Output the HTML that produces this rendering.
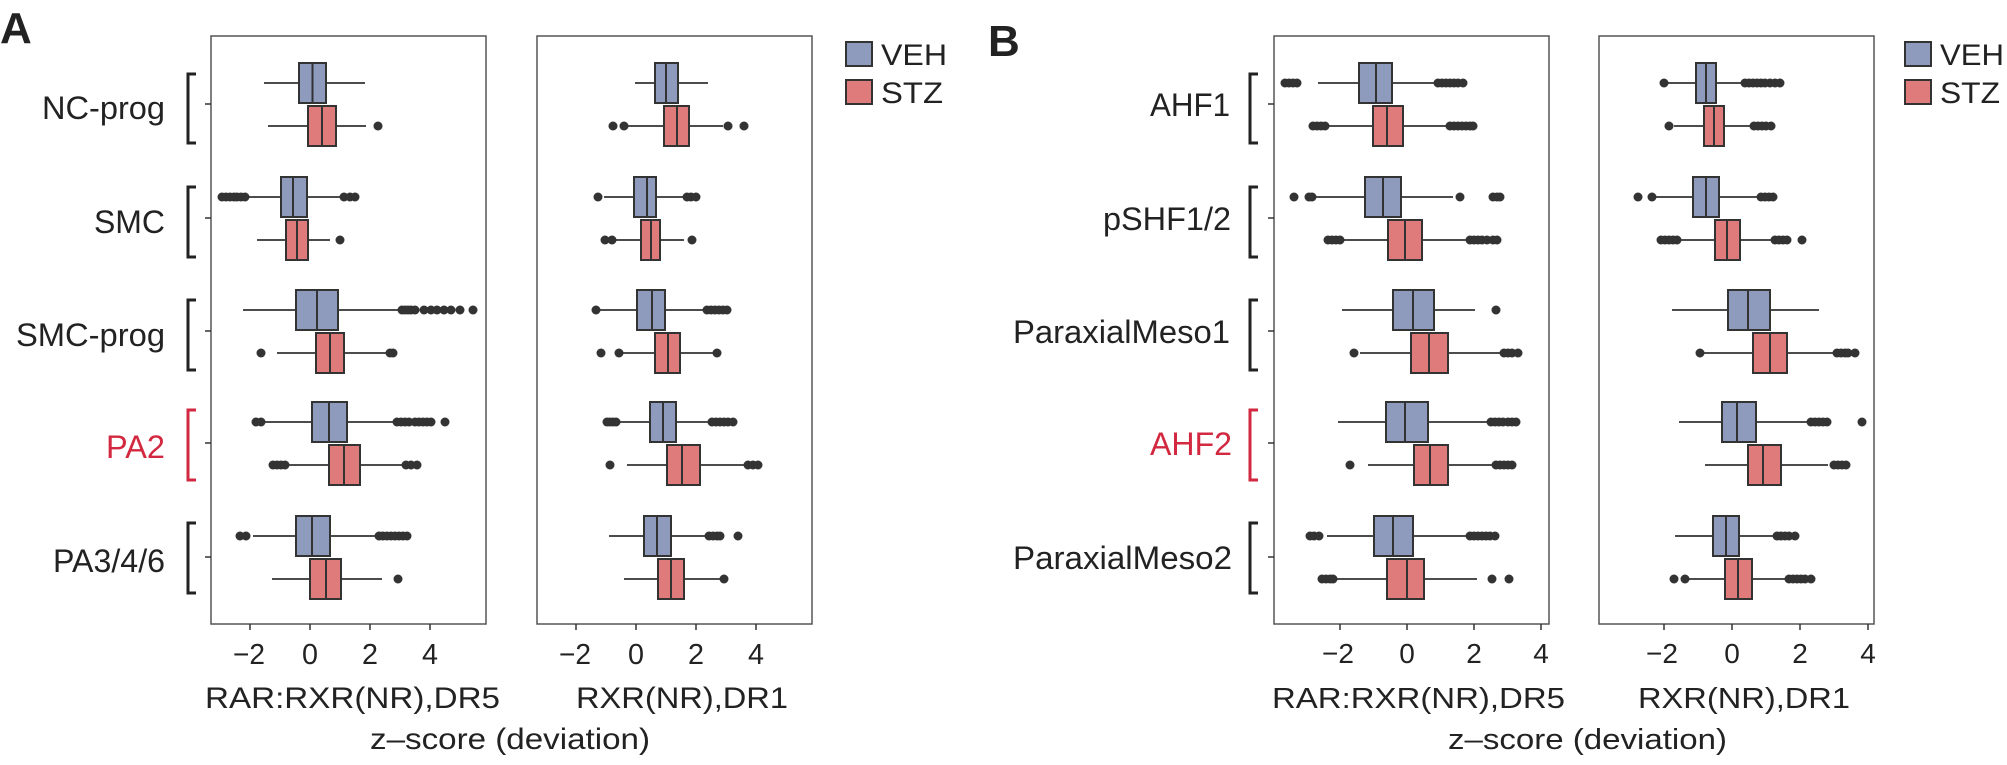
<!DOCTYPE html>
<html><head><meta charset="utf-8"><style>
html,body{margin:0;padding:0;background:#fff;}
svg{display:block;}
text{font-family:"Liberation Sans",Arial,sans-serif;fill:#222;}
.v{fill:#8e9bbd;stroke:#333;stroke-width:2;}
.s{fill:#df7b7a;stroke:#333;stroke-width:2;}
.w{stroke:#333;stroke-width:1.8;}
.m{stroke:#333;stroke-width:2;}
.o circle{fill:#333;}
.f{fill:none;stroke:#555;stroke-width:1.5;}
.t{stroke:#333;stroke-width:1.5;}
.br{fill:none;stroke:#222;stroke-width:3;}
.brr{fill:none;stroke:#d22840;stroke-width:3;}
</style></head><body>
<svg width="2007" height="765" viewBox="0 0 2007 765" xmlns="http://www.w3.org/2000/svg">
<text x="0" y="43" font-size="44" font-weight="bold" fill="#000">A</text>
<text x="988" y="56" font-size="44" font-weight="bold" fill="#000">B</text>

<rect class="f" x="211" y="36" width="275" height="588"/>
<rect class="f" x="537" y="36" width="275" height="588"/>
<rect class="f" x="1274" y="36" width="275" height="588"/>
<rect class="f" x="1599" y="36" width="275" height="588"/>

<g class="t">
<line x1="205" x2="211" y1="104" y2="104"/><line x1="205" x2="211" y1="218" y2="218"/><line x1="205" x2="211" y1="331" y2="331"/><line x1="205" x2="211" y1="443" y2="443"/><line x1="205" x2="211" y1="557" y2="557"/>
<line x1="1268" x2="1274" y1="104" y2="104"/><line x1="1268" x2="1274" y1="218" y2="218"/><line x1="1268" x2="1274" y1="331" y2="331"/><line x1="1268" x2="1274" y1="443" y2="443"/><line x1="1268" x2="1274" y1="557" y2="557"/>
<line x1="250" x2="250" y1="624" y2="630"/><line x1="310" x2="310" y1="624" y2="630"/><line x1="370" x2="370" y1="624" y2="630"/><line x1="430" x2="430" y1="624" y2="630"/>
<line x1="576" x2="576" y1="624" y2="630"/><line x1="636" x2="636" y1="624" y2="630"/><line x1="696" x2="696" y1="624" y2="630"/><line x1="756" x2="756" y1="624" y2="630"/>
<line x1="1340" x2="1340" y1="624" y2="630"/><line x1="1407" x2="1407" y1="624" y2="630"/><line x1="1474" x2="1474" y1="624" y2="630"/><line x1="1541" x2="1541" y1="624" y2="630"/>
<line x1="1664" x2="1664" y1="624" y2="630"/><line x1="1732" x2="1732" y1="624" y2="630"/><line x1="1800" x2="1800" y1="624" y2="630"/><line x1="1868" x2="1868" y1="624" y2="630"/>
</g>

<g font-size="29" text-anchor="middle">
<text x="249" y="664" textLength="32" lengthAdjust="spacingAndGlyphs">−2</text>
<text x="310" y="664" textLength="16" lengthAdjust="spacingAndGlyphs">0</text>
<text x="370" y="664" textLength="16" lengthAdjust="spacingAndGlyphs">2</text>
<text x="430" y="664" textLength="16" lengthAdjust="spacingAndGlyphs">4</text>
<text x="575" y="664" textLength="32" lengthAdjust="spacingAndGlyphs">−2</text>
<text x="636" y="664" textLength="16" lengthAdjust="spacingAndGlyphs">0</text>
<text x="696" y="664" textLength="16" lengthAdjust="spacingAndGlyphs">2</text>
<text x="756" y="664" textLength="16" lengthAdjust="spacingAndGlyphs">4</text>
</g>
<g font-size="28" text-anchor="middle">
<text x="1338" y="663">−2</text><text x="1407" y="663">0</text><text x="1474" y="663">2</text><text x="1541" y="663">4</text>
<text x="1662" y="663">−2</text><text x="1732" y="663">0</text><text x="1800" y="663">2</text><text x="1868" y="663">4</text>
</g>

<text x="205" y="708" font-size="30" textLength="295" lengthAdjust="spacingAndGlyphs">RAR:RXR(NR),DR5</text>
<text x="576" y="708" font-size="30" textLength="212" lengthAdjust="spacingAndGlyphs">RXR(NR),DR1</text>
<text x="370" y="749" font-size="30" textLength="280" lengthAdjust="spacingAndGlyphs">z–score (deviation)</text>
<text x="1272" y="708" font-size="29" textLength="293" lengthAdjust="spacingAndGlyphs">RAR:RXR(NR),DR5</text>
<text x="1638" y="708" font-size="29" textLength="212" lengthAdjust="spacingAndGlyphs">RXR(NR),DR1</text>
<text x="1448" y="749" font-size="29" textLength="279" lengthAdjust="spacingAndGlyphs">z–score (deviation)</text>

<g font-size="32" text-anchor="end">
<text x="165" y="119" textLength="123" lengthAdjust="spacingAndGlyphs">NC-prog</text>
<text x="165" y="233" textLength="71" lengthAdjust="spacingAndGlyphs">SMC</text>
<text x="165" y="346" textLength="149" lengthAdjust="spacingAndGlyphs">SMC-prog</text>
<text x="165" y="458" textLength="59" lengthAdjust="spacingAndGlyphs" style="fill:#d22840">PA2</text>
<text x="165" y="572" textLength="112" lengthAdjust="spacingAndGlyphs">PA3/4/6</text>
</g>
<g font-size="32" text-anchor="end">
<text x="1230" y="116" textLength="80" lengthAdjust="spacingAndGlyphs">AHF1</text>
<text x="1231" y="230" textLength="128" lengthAdjust="spacingAndGlyphs">pSHF1/2</text>
<text x="1230" y="343" textLength="217" lengthAdjust="spacingAndGlyphs">ParaxialMeso1</text>
<text x="1232" y="455" textLength="82" lengthAdjust="spacingAndGlyphs" style="fill:#d22840">AHF2</text>
<text x="1232" y="569" textLength="219" lengthAdjust="spacingAndGlyphs">ParaxialMeso2</text>
</g>

<path class="br" d="M196 74H188V143H196"/>
<path class="br" d="M196 187H188V257H196"/>
<path class="br" d="M196 300H188V370H196"/>
<path class="brr" d="M196 410H188V480H196"/>
<path class="br" d="M196 523H188V593H196"/>
<path class="br" d="M1258 74H1250V143H1258"/>
<path class="br" d="M1258 187H1250V257H1258"/>
<path class="br" d="M1258 300H1250V370H1258"/>
<path class="brr" d="M1258 410H1250V480H1258"/>
<path class="br" d="M1258 523H1250V593H1258"/>

<g class="o">
<line class="w" x1="264" x2="365" y1="83" y2="83"/><rect class="v" x="299" y="63" width="27" height="40"/><line class="m" x1="312.5" x2="312.5" y1="63" y2="103"/>
<line class="w" x1="268" x2="366" y1="126" y2="126"/><rect class="s" x="308" y="106" width="28" height="40"/><line class="m" x1="322" x2="322" y1="106" y2="146"/>
<circle cx="378" cy="126" r="4.5"/>
<line class="w" x1="248" x2="341" y1="197" y2="197"/><rect class="v" x="281" y="177" width="26" height="40"/><line class="m" x1="293" x2="293" y1="177" y2="217"/>
<circle cx="222" cy="197" r="4.5"/><circle cx="226" cy="197" r="4.5"/><circle cx="230" cy="197" r="4.5"/><circle cx="234" cy="197" r="4.5"/><circle cx="237" cy="197" r="4.5"/><circle cx="241" cy="197" r="4.5"/><circle cx="245" cy="197" r="4.5"/><circle cx="344" cy="197" r="4.5"/><circle cx="350" cy="197" r="4.5"/><circle cx="355" cy="197" r="4.5"/>
<line class="w" x1="257" x2="330" y1="240" y2="240"/><rect class="s" x="286" y="220" width="22" height="40"/><line class="m" x1="297" x2="297" y1="220" y2="260"/>
<circle cx="340" cy="240" r="4.5"/>
<line class="w" x1="243" x2="399" y1="310" y2="310"/><rect class="v" x="296" y="290" width="42" height="40"/><line class="m" x1="317" x2="317" y1="290" y2="330"/>
<circle cx="402" cy="310" r="4.5"/><circle cx="405" cy="310" r="4.5"/><circle cx="408" cy="310" r="4.5"/><circle cx="411" cy="310" r="4.5"/><circle cx="415" cy="310" r="4.5"/><circle cx="424" cy="310" r="4.5"/><circle cx="431" cy="310" r="4.5"/><circle cx="437" cy="310" r="4.5"/><circle cx="444" cy="310" r="4.5"/><circle cx="451" cy="310" r="4.5"/><circle cx="460" cy="310" r="4.5"/><circle cx="473" cy="310" r="4.5"/>
<line class="w" x1="277" x2="388" y1="353" y2="353"/><rect class="s" x="316" y="333" width="28" height="40"/><line class="m" x1="330" x2="330" y1="333" y2="373"/>
<circle cx="261" cy="353" r="4.5"/><circle cx="390" cy="353" r="4.5"/><circle cx="393" cy="353" r="4.5"/>
<line class="w" x1="263" x2="395" y1="422" y2="422"/><rect class="v" x="312" y="402" width="35" height="40"/><line class="m" x1="329" x2="329" y1="402" y2="442"/>
<circle cx="256" cy="422" r="4.5"/><circle cx="261" cy="422" r="4.5"/><circle cx="397" cy="422" r="4.5"/><circle cx="401" cy="422" r="4.5"/><circle cx="405" cy="422" r="4.5"/><circle cx="409" cy="422" r="4.5"/><circle cx="415" cy="422" r="4.5"/><circle cx="419" cy="422" r="4.5"/><circle cx="423" cy="422" r="4.5"/><circle cx="427" cy="422" r="4.5"/><circle cx="431" cy="422" r="4.5"/><circle cx="445" cy="422" r="4.5"/>
<line class="w" x1="286" x2="404" y1="465" y2="465"/><rect class="s" x="329" y="445" width="31" height="40"/><line class="m" x1="344" x2="344" y1="445" y2="485"/>
<circle cx="273" cy="465" r="4.5"/><circle cx="277" cy="465" r="4.5"/><circle cx="281" cy="465" r="4.5"/><circle cx="285" cy="465" r="4.5"/><circle cx="406" cy="465" r="4.5"/><circle cx="411" cy="465" r="4.5"/><circle cx="417" cy="465" r="4.5"/>
<line class="w" x1="253" x2="377" y1="536" y2="536"/><rect class="v" x="296" y="516" width="34" height="40"/><line class="m" x1="312" x2="312" y1="516" y2="556"/>
<circle cx="240" cy="536" r="4.5"/><circle cx="246" cy="536" r="4.5"/><circle cx="379" cy="536" r="4.5"/><circle cx="383" cy="536" r="4.5"/><circle cx="387" cy="536" r="4.5"/><circle cx="391" cy="536" r="4.5"/><circle cx="395" cy="536" r="4.5"/><circle cx="399" cy="536" r="4.5"/><circle cx="403" cy="536" r="4.5"/><circle cx="407" cy="536" r="4.5"/>
<line class="w" x1="272" x2="382" y1="579" y2="579"/><rect class="s" x="310" y="559" width="31" height="40"/><line class="m" x1="326" x2="326" y1="559" y2="599"/>
<circle cx="398" cy="579" r="4.5"/>

<line class="w" x1="635" x2="708" y1="83" y2="83"/><rect class="v" x="655" y="63" width="23" height="40"/><line class="m" x1="666" x2="666" y1="63" y2="103"/>
<line class="w" x1="626" x2="723" y1="126" y2="126"/><rect class="s" x="664" y="106" width="25" height="40"/><line class="m" x1="677" x2="677" y1="106" y2="146"/>
<circle cx="613" cy="126" r="4.5"/><circle cx="624" cy="126" r="4.5"/><circle cx="728" cy="126" r="4.5"/><circle cx="744" cy="126" r="4.5"/>
<line class="w" x1="604" x2="685" y1="197" y2="197"/><rect class="v" x="634" y="177" width="22" height="40"/><line class="m" x1="647" x2="647" y1="177" y2="217"/>
<circle cx="598" cy="197" r="4.5"/><circle cx="687" cy="197" r="4.5"/><circle cx="691" cy="197" r="4.5"/><circle cx="696" cy="197" r="4.5"/>
<line class="w" x1="615" x2="684" y1="240" y2="240"/><rect class="s" x="641" y="220" width="19" height="40"/><line class="m" x1="651" x2="651" y1="220" y2="260"/>
<circle cx="605" cy="240" r="4.5"/><circle cx="612" cy="240" r="4.5"/><circle cx="692" cy="240" r="4.5"/>
<line class="w" x1="598" x2="705" y1="310" y2="310"/><rect class="v" x="637" y="290" width="28" height="40"/><line class="m" x1="652" x2="652" y1="290" y2="330"/>
<circle cx="596" cy="310" r="4.5"/><circle cx="707" cy="310" r="4.5"/><circle cx="711" cy="310" r="4.5"/><circle cx="715" cy="310" r="4.5"/><circle cx="719" cy="310" r="4.5"/><circle cx="723" cy="310" r="4.5"/><circle cx="727" cy="310" r="4.5"/>
<line class="w" x1="622" x2="715" y1="353" y2="353"/><rect class="s" x="655" y="333" width="25" height="40"/><line class="m" x1="668" x2="668" y1="333" y2="373"/>
<circle cx="601" cy="353" r="4.5"/><circle cx="619" cy="353" r="4.5"/><circle cx="717" cy="353" r="4.5"/>
<line class="w" x1="616" x2="710" y1="422" y2="422"/><rect class="v" x="650" y="402" width="26" height="40"/><line class="m" x1="663" x2="663" y1="402" y2="442"/>
<circle cx="607" cy="422" r="4.5"/><circle cx="610" cy="422" r="4.5"/><circle cx="613" cy="422" r="4.5"/><circle cx="616" cy="422" r="4.5"/><circle cx="712" cy="422" r="4.5"/><circle cx="716" cy="422" r="4.5"/><circle cx="720" cy="422" r="4.5"/><circle cx="724" cy="422" r="4.5"/><circle cx="728" cy="422" r="4.5"/><circle cx="733" cy="422" r="4.5"/>
<line class="w" x1="627" x2="745" y1="465" y2="465"/><rect class="s" x="667" y="445" width="33" height="40"/><line class="m" x1="682" x2="682" y1="445" y2="485"/>
<circle cx="610" cy="465" r="4.5"/><circle cx="748" cy="465" r="4.5"/><circle cx="753" cy="465" r="4.5"/><circle cx="758" cy="465" r="4.5"/>
<line class="w" x1="609" x2="707" y1="536" y2="536"/><rect class="v" x="644" y="516" width="27" height="40"/><line class="m" x1="657" x2="657" y1="516" y2="556"/>
<circle cx="709" cy="536" r="4.5"/><circle cx="713" cy="536" r="4.5"/><circle cx="717" cy="536" r="4.5"/><circle cx="720" cy="536" r="4.5"/><circle cx="738" cy="536" r="4.5"/>
<line class="w" x1="624" x2="720" y1="579" y2="579"/><rect class="s" x="658" y="559" width="26" height="40"/><line class="m" x1="671" x2="671" y1="559" y2="599"/>
<circle cx="724" cy="579" r="4.5"/>

<line class="w" x1="1318" x2="1435" y1="83" y2="83"/><rect class="v" x="1359" y="63" width="33" height="40"/><line class="m" x1="1376" x2="1376" y1="63" y2="103"/>
<circle cx="1285" cy="83" r="4.5"/><circle cx="1289" cy="83" r="4.5"/><circle cx="1293" cy="83" r="4.5"/><circle cx="1297" cy="83" r="4.5"/><circle cx="1438" cy="83" r="4.5"/><circle cx="1442" cy="83" r="4.5"/><circle cx="1446" cy="83" r="4.5"/><circle cx="1450" cy="83" r="4.5"/><circle cx="1454" cy="83" r="4.5"/><circle cx="1458" cy="83" r="4.5"/><circle cx="1463" cy="83" r="4.5"/>
<line class="w" x1="1328" x2="1447" y1="126" y2="126"/><rect class="s" x="1373" y="106" width="30" height="40"/><line class="m" x1="1387" x2="1387" y1="106" y2="146"/>
<circle cx="1313" cy="126" r="4.5"/><circle cx="1317" cy="126" r="4.5"/><circle cx="1321" cy="126" r="4.5"/><circle cx="1325" cy="126" r="4.5"/><circle cx="1450" cy="126" r="4.5"/><circle cx="1454" cy="126" r="4.5"/><circle cx="1458" cy="126" r="4.5"/><circle cx="1462" cy="126" r="4.5"/><circle cx="1466" cy="126" r="4.5"/><circle cx="1470" cy="126" r="4.5"/><circle cx="1473" cy="126" r="4.5"/>
<line class="w" x1="1313" x2="1453" y1="197" y2="197"/><rect class="v" x="1365" y="177" width="36" height="40"/><line class="m" x1="1383" x2="1383" y1="177" y2="217"/>
<circle cx="1294" cy="197" r="4.5"/><circle cx="1309" cy="197" r="4.5"/><circle cx="1312" cy="197" r="4.5"/><circle cx="1460" cy="197" r="4.5"/><circle cx="1493" cy="197" r="4.5"/><circle cx="1497" cy="197" r="4.5"/><circle cx="1500" cy="197" r="4.5"/>
<line class="w" x1="1340" x2="1468" y1="240" y2="240"/><rect class="s" x="1388" y="220" width="34" height="40"/><line class="m" x1="1405" x2="1405" y1="220" y2="260"/>
<circle cx="1328" cy="240" r="4.5"/><circle cx="1332" cy="240" r="4.5"/><circle cx="1336" cy="240" r="4.5"/><circle cx="1340" cy="240" r="4.5"/><circle cx="1470" cy="240" r="4.5"/><circle cx="1474" cy="240" r="4.5"/><circle cx="1478" cy="240" r="4.5"/><circle cx="1482" cy="240" r="4.5"/><circle cx="1487" cy="240" r="4.5"/><circle cx="1493" cy="240" r="4.5"/><circle cx="1497" cy="240" r="4.5"/>
<line class="w" x1="1342" x2="1475" y1="310" y2="310"/><rect class="v" x="1393" y="290" width="41" height="40"/><line class="m" x1="1413" x2="1413" y1="290" y2="330"/>
<circle cx="1496" cy="310" r="4.5"/>
<line class="w" x1="1360" x2="1501" y1="353" y2="353"/><rect class="s" x="1411" y="333" width="37" height="40"/><line class="m" x1="1429" x2="1429" y1="333" y2="373"/>
<circle cx="1354" cy="353" r="4.5"/><circle cx="1504" cy="353" r="4.5"/><circle cx="1508" cy="353" r="4.5"/><circle cx="1512" cy="353" r="4.5"/><circle cx="1518" cy="353" r="4.5"/>
<line class="w" x1="1338" x2="1489" y1="422" y2="422"/><rect class="v" x="1386" y="402" width="42" height="40"/><line class="m" x1="1405" x2="1405" y1="402" y2="442"/>
<circle cx="1491" cy="422" r="4.5"/><circle cx="1495" cy="422" r="4.5"/><circle cx="1499" cy="422" r="4.5"/><circle cx="1503" cy="422" r="4.5"/><circle cx="1508" cy="422" r="4.5"/><circle cx="1512" cy="422" r="4.5"/><circle cx="1516" cy="422" r="4.5"/>
<line class="w" x1="1368" x2="1494" y1="465" y2="465"/><rect class="s" x="1414" y="445" width="34" height="40"/><line class="m" x1="1430" x2="1430" y1="445" y2="485"/>
<circle cx="1350" cy="465" r="4.5"/><circle cx="1496" cy="465" r="4.5"/><circle cx="1500" cy="465" r="4.5"/><circle cx="1504" cy="465" r="4.5"/><circle cx="1508" cy="465" r="4.5"/><circle cx="1512" cy="465" r="4.5"/>
<line class="w" x1="1327" x2="1468" y1="536" y2="536"/><rect class="v" x="1374" y="516" width="39" height="40"/><line class="m" x1="1393" x2="1393" y1="516" y2="556"/>
<circle cx="1310" cy="536" r="4.5"/><circle cx="1314" cy="536" r="4.5"/><circle cx="1319" cy="536" r="4.5"/><circle cx="1470" cy="536" r="4.5"/><circle cx="1474" cy="536" r="4.5"/><circle cx="1478" cy="536" r="4.5"/><circle cx="1482" cy="536" r="4.5"/><circle cx="1486" cy="536" r="4.5"/><circle cx="1490" cy="536" r="4.5"/><circle cx="1495" cy="536" r="4.5"/>
<line class="w" x1="1333" x2="1477" y1="579" y2="579"/><rect class="s" x="1387" y="559" width="37" height="40"/><line class="m" x1="1407" x2="1407" y1="559" y2="599"/>
<circle cx="1322" cy="579" r="4.5"/><circle cx="1326" cy="579" r="4.5"/><circle cx="1330" cy="579" r="4.5"/><circle cx="1333" cy="579" r="4.5"/><circle cx="1492" cy="579" r="4.5"/><circle cx="1509" cy="579" r="4.5"/>

<line class="w" x1="1667" x2="1743" y1="83" y2="83"/><rect class="v" x="1696" y="63" width="20" height="40"/><line class="m" x1="1706" x2="1706" y1="63" y2="103"/>
<circle cx="1664" cy="83" r="4.5"/><circle cx="1745" cy="83" r="4.5"/><circle cx="1749" cy="83" r="4.5"/><circle cx="1753" cy="83" r="4.5"/><circle cx="1757" cy="83" r="4.5"/><circle cx="1761" cy="83" r="4.5"/><circle cx="1765" cy="83" r="4.5"/><circle cx="1770" cy="83" r="4.5"/><circle cx="1775" cy="83" r="4.5"/><circle cx="1780" cy="83" r="4.5"/>
<line class="w" x1="1674" x2="1752" y1="126" y2="126"/><rect class="s" x="1704" y="106" width="20" height="40"/><line class="m" x1="1714" x2="1714" y1="106" y2="146"/>
<circle cx="1669" cy="126" r="4.5"/><circle cx="1754" cy="126" r="4.5"/><circle cx="1758" cy="126" r="4.5"/><circle cx="1762" cy="126" r="4.5"/><circle cx="1766" cy="126" r="4.5"/><circle cx="1771" cy="126" r="4.5"/>
<line class="w" x1="1656" x2="1757" y1="197" y2="197"/><rect class="v" x="1693" y="177" width="26" height="40"/><line class="m" x1="1706" x2="1706" y1="177" y2="217"/>
<circle cx="1638" cy="197" r="4.5"/><circle cx="1652" cy="197" r="4.5"/><circle cx="1761" cy="197" r="4.5"/><circle cx="1765" cy="197" r="4.5"/><circle cx="1769" cy="197" r="4.5"/><circle cx="1773" cy="197" r="4.5"/>
<line class="w" x1="1679" x2="1773" y1="240" y2="240"/><rect class="s" x="1715" y="220" width="25" height="40"/><line class="m" x1="1727" x2="1727" y1="220" y2="260"/>
<circle cx="1661" cy="240" r="4.5"/><circle cx="1665" cy="240" r="4.5"/><circle cx="1669" cy="240" r="4.5"/><circle cx="1673" cy="240" r="4.5"/><circle cx="1677" cy="240" r="4.5"/><circle cx="1775" cy="240" r="4.5"/><circle cx="1779" cy="240" r="4.5"/><circle cx="1783" cy="240" r="4.5"/><circle cx="1787" cy="240" r="4.5"/><circle cx="1802" cy="240" r="4.5"/>
<line class="w" x1="1672" x2="1819" y1="310" y2="310"/><rect class="v" x="1728" y="290" width="42" height="40"/><line class="m" x1="1748" x2="1748" y1="290" y2="330"/>
<line class="w" x1="1704" x2="1835" y1="353" y2="353"/><rect class="s" x="1753" y="333" width="34" height="40"/><line class="m" x1="1770" x2="1770" y1="333" y2="373"/>
<circle cx="1700" cy="353" r="4.5"/><circle cx="1837" cy="353" r="4.5"/><circle cx="1841" cy="353" r="4.5"/><circle cx="1845" cy="353" r="4.5"/><circle cx="1848" cy="353" r="4.5"/><circle cx="1855" cy="353" r="4.5"/>
<line class="w" x1="1679" x2="1809" y1="422" y2="422"/><rect class="v" x="1722" y="402" width="34" height="40"/><line class="m" x1="1737" x2="1737" y1="402" y2="442"/>
<circle cx="1811" cy="422" r="4.5"/><circle cx="1815" cy="422" r="4.5"/><circle cx="1819" cy="422" r="4.5"/><circle cx="1823" cy="422" r="4.5"/><circle cx="1827" cy="422" r="4.5"/><circle cx="1862" cy="422" r="4.5"/>
<line class="w" x1="1705" x2="1828" y1="465" y2="465"/><rect class="s" x="1748" y="445" width="33" height="40"/><line class="m" x1="1763" x2="1763" y1="445" y2="485"/>
<circle cx="1834" cy="465" r="4.5"/><circle cx="1838" cy="465" r="4.5"/><circle cx="1842" cy="465" r="4.5"/><circle cx="1846" cy="465" r="4.5"/>
<line class="w" x1="1675" x2="1775" y1="536" y2="536"/><rect class="v" x="1713" y="516" width="26" height="40"/><line class="m" x1="1726" x2="1726" y1="516" y2="556"/>
<circle cx="1777" cy="536" r="4.5"/><circle cx="1781" cy="536" r="4.5"/><circle cx="1785" cy="536" r="4.5"/><circle cx="1789" cy="536" r="4.5"/><circle cx="1795" cy="536" r="4.5"/>
<line class="w" x1="1689" x2="1787" y1="579" y2="579"/><rect class="s" x="1725" y="559" width="27" height="40"/><line class="m" x1="1738" x2="1738" y1="559" y2="599"/>
<circle cx="1674" cy="579" r="4.5"/><circle cx="1685" cy="579" r="4.5"/><circle cx="1789" cy="579" r="4.5"/><circle cx="1793" cy="579" r="4.5"/><circle cx="1797" cy="579" r="4.5"/><circle cx="1801" cy="579" r="4.5"/><circle cx="1805" cy="579" r="4.5"/><circle cx="1811" cy="579" r="4.5"/>
</g>

<rect class="v" x="846" y="42" width="26" height="24"/>
<rect class="s" x="846" y="80" width="26" height="24"/>
<text x="881" y="65" font-size="30" textLength="66" lengthAdjust="spacingAndGlyphs">VEH</text>
<text x="881" y="103" font-size="30" textLength="62" lengthAdjust="spacingAndGlyphs">STZ</text>
<rect class="v" x="1905" y="42" width="26" height="24"/>
<rect class="s" x="1905" y="80" width="26" height="24"/>
<text x="1940" y="65" font-size="30" textLength="64" lengthAdjust="spacingAndGlyphs">VEH</text>
<text x="1940" y="103" font-size="30" textLength="60" lengthAdjust="spacingAndGlyphs">STZ</text>
</svg>
</body></html>
